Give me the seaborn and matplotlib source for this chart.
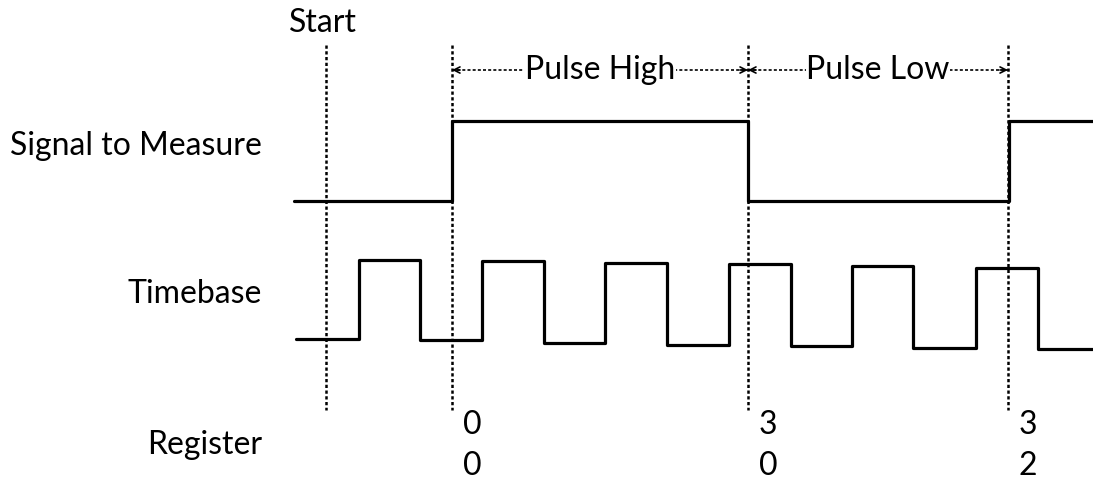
import matplotlib
matplotlib.use("Agg")
import matplotlib.pyplot as plt
import seaborn as sns
import pandas as pd

sns.set_theme(style="white")
plt.rcParams["font.family"] = ["Lato", "DejaVu Sans"]

# Waveform data (horizontal position, level) - step-post style
signal_x = [294, 452, 748, 1009, 1093]
signal_y = [201, 121, 201, 121, 121]

timebase_x = [296, 359, 420, 482, 544, 605, 667, 729, 791, 852, 913, 976, 1038, 1093]
timebase_y = [339, 260, 340, 261, 343, 263, 345, 264, 346, 266, 348, 268, 349, 349]

# event markers
marker_x = [326, 452, 748, 1008]
marker_top, marker_bottom = 45, 410

# intervals
interval_labels = ["Pulse High", "Pulse Low"]
interval_start = [452, 748]
interval_end = [748, 1008]
interval_y = 70

# register readings at each edge
register_x = [452, 748, 1008]
register_top = ["0", "3", "3"]
register_bottom = ["0", "0", "2"]

row_labels = ["Signal to Measure", "Timebase", "Register"]
row_label_y = [146, 294, 445]

FS = 23

fig = plt.figure(figsize=(10.93, 4.79), dpi=100)
ax = fig.add_axes([0, 0, 1, 1])

sig = pd.DataFrame({"x": signal_x, "y": signal_y})
tb = pd.DataFrame({"x": timebase_x, "y": timebase_y})
sns.lineplot(data=sig, x="x", y="y", drawstyle="steps-post", color="black",
             linewidth=2.3, ax=ax, sort=False)
sns.lineplot(data=tb, x="x", y="y", drawstyle="steps-post", color="black",
             linewidth=2.3, ax=ax, sort=False)

for mx in marker_x:
    ax.plot([mx, mx], [marker_top, marker_bottom], color="black",
            linewidth=1.8, linestyle=(0, (1.3, 1.0)))

for lab, x0, x1 in zip(interval_labels, interval_start, interval_end):
    ax.plot([x0, x1], [interval_y, interval_y], color="black", linewidth=1.2,
            linestyle=(0, (1.8, 1.3)))
    ax.annotate("", xy=(x0, interval_y), xytext=(x0 + 8, interval_y),
                arrowprops=dict(arrowstyle="->", lw=1.2, color="black",
                                shrinkA=0, shrinkB=0, mutation_scale=11))
    ax.annotate("", xy=(x1, interval_y), xytext=(x1 - 8, interval_y),
                arrowprops=dict(arrowstyle="->", lw=1.2, color="black",
                                shrinkA=0, shrinkB=0, mutation_scale=11))
    ax.text((x0 + x1) / 2, interval_y, lab, ha="center", va="center",
            fontsize=FS, color="black",
            bbox=dict(facecolor="white", edgecolor="none", pad=0.5))

ax.text(289, 23, "Start", ha="left", va="center", fontsize=FS, color="black")

for lab, ly in zip(row_labels, row_label_y):
    ax.text(262, ly, lab, ha="right", va="center", fontsize=FS, color="black")

for rx, t, b in zip(register_x, register_top, register_bottom):
    ax.text(rx + 11, 425, t, ha="left", va="center", fontsize=FS, color="black")
    ax.text(rx + 11, 466, b, ha="left", va="center", fontsize=FS, color="black")

ax.set_xlim(0, 1093)
ax.set_ylim(479, 0)
ax.axis("off")

fig.savefig("out.png", dpi=100, facecolor="white")
